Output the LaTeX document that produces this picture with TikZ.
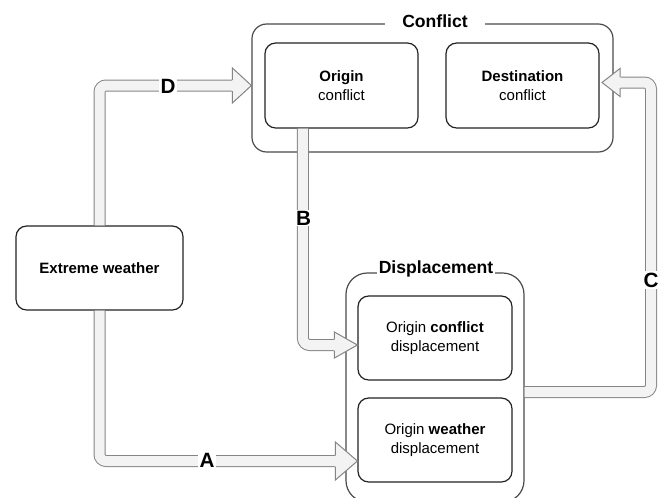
\documentclass[tikz,border=0pt]{standalone}
\usepackage{fontspec}
\setmainfont{Liberation Sans}
\usetikzlibrary{fit,calc}
\definecolor{pipefill}{HTML}{F3F3F3}
\definecolor{pipeline}{HTML}{858585}
\definecolor{boxline}{HTML}{222222}
\definecolor{outerline}{HTML}{4A4A4A}
\newcommand\blockhead[4]{%
  \begin{scope}[shift={(#1)}, rotate=#2]
    \fill[pipefill] (0,0) -- (-#3-0.5,#4) -- (-#3-0.5,-#4) -- cycle;
    \draw[pipeline, line width=0.75pt, line join=miter] (-#3,5.5) -- (-#3,#4) -- (0,0) -- (-#3,-#4) -- (-#3,-5.5);
  \end{scope}}
\begin{document}
\begin{tikzpicture}[x=0.75pt, y=-0.75pt,
  innerbox/.style={draw=boxline, line width=0.9pt, rounded corners=8pt, inner sep=0pt},
  outerbox/.style={draw=outerline, line width=0.9pt, inner sep=0pt},
  boxtext/.style={align=center, font=\fontsize{11.25}{14}\selectfont, inner sep=0pt},
  titletext/.style={font=\fontsize{13.2}{15}\selectfont\bfseries, fill=white, inner ysep=1pt},
  letter/.style={font=\fontsize{15.5}{17}\selectfont\bfseries, fill=white, inner sep=1pt},
  pipe/.style={draw=pipeline, line width=0.75pt, double=pipefill, double distance=7.5pt, rounded corners=5pt}]
\useasboundingbox (0,0) rectangle (661,497);

% containers
\node[outerbox, rounded corners=11pt, fit={(252,24)(613,152)}] (conflict) {};
\node[titletext, inner xsep=12.75pt] (conflicttitle) at (435,21) {Conflict};
\node[outerbox, rounded corners=16pt, fit={(346,273)(524,502)}] (disp) {};
\node[titletext, inner xsep=1.5pt] (disptitle) at (436,269) {Displacement};

% boxes
\node[innerbox, fit={(265,43)(418,128)}] (oc) {};
\node[boxtext] at (oc) {\textbf{Origin}\\conflict};
\node[innerbox, fit={(446,43)(599,128)}] (dc) {};
\node[boxtext] at (dc) {\textbf{Destination}\\conflict};
\node[innerbox, fit={(16,226)(183,310)}] (ew) {};
\node[boxtext] at (ew) {\textbf{Extreme weather}};
\node[innerbox, fit={(358,296)(512,380)}] (ocd) {};
\node[boxtext] at (ocd) {Origin \textbf{conflict}\\displacement};
\node[innerbox, fit={(358,398)(512,482)}] (owd) {};
\node[boxtext] at (owd) {Origin \textbf{weather}\\displacement};

% arrow tips
\coordinate (dT) at (conflict.west |- 0,85.5);
\coordinate (aT) at (owd.west |- 0,461);
\coordinate (bT) at (ocd.west |- 0,345);
\coordinate (cS) at (disp.east |- 0,392);
\coordinate (cT) at (602,82.5);
\coordinate (bS) at ($(oc.south west)!0.25!(oc.south east)$);

% pipes
\draw[pipe] (ew.north) |- ($(dT)+(-19,0)$);
\blockhead{dT}{0}{19}{17.5}
\draw[pipe] (ew.south) |- ($(aT)+(-22,0)$);
\blockhead{aT}{0}{22}{19}
\draw[pipe] (bS) |- ($(bT)+(-23,0)$);
\blockhead{bT}{0}{23}{13}
\draw[pipe] (cS) -| (651,82.5) -- ($(cT)+(18,0)$);
\blockhead{cT}{180}{18}{14}

% labels
\node[letter] (labD) at (168,86) {D};
\node[letter] (labA) at (207,460) {A};
\node[letter] (labB) at (303.5,218) {B};
\node[letter] (labC) at (651,280) {C};
\end{tikzpicture}
\end{document}
